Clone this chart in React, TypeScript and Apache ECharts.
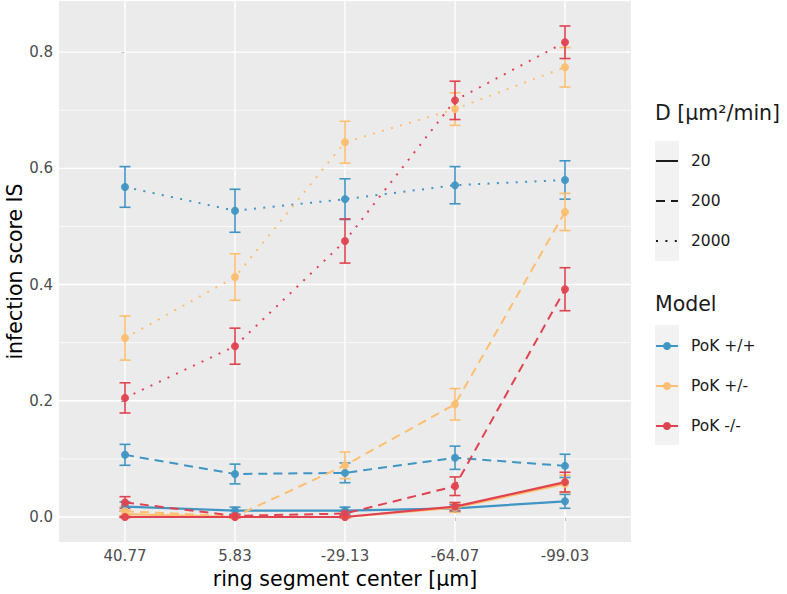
import React, { useEffect, useRef } from "react";
import * as echarts from "echarts";

// ---------- data ----------
const categories = ["40.77", "5.83", "-29.13", "-64.07", "-99.03"];
const models = ["PoK +/+", "PoK +/-", "PoK -/-"];
const diffusions = ["20", "200", "2000"];

// PoK +/+
const wtD20 = [0.018, 0.011, 0.011, 0.015, 0.027];
const wtD20Err = [0.008, 0.006, 0.006, 0.006, 0.012];
const wtD200 = [0.107, 0.074, 0.076, 0.102, 0.088];
const wtD200Err = [0.018, 0.017, 0.017, 0.020, 0.020];
const wtD2000 = [0.568, 0.527, 0.547, 0.571, 0.580];
const wtD2000Err = [0.035, 0.037, 0.035, 0.032, 0.033];

// PoK +/-
const hetD20 = [0.005, 0.0, 0.0, 0.016, 0.057];
const hetD20Err = [0.005, 0.002, 0.002, 0.008, 0.015];
const hetD200 = [0.010, 0.001, 0.089, 0.194, 0.525];
const hetD200Err = [0.008, 0.003, 0.023, 0.027, 0.032];
const hetD2000 = [0.308, 0.413, 0.645, 0.702, 0.774];
const hetD2000Err = [0.038, 0.040, 0.036, 0.028, 0.034];

// PoK -/-
const koD20 = [0.0, 0.0, 0.0, 0.018, 0.060];
const koD20Err = [0.001, 0.001, 0.001, 0.007, 0.017];
const koD200 = [0.025, 0.002, 0.006, 0.053, 0.392];
const koD200Err = [0.010, 0.002, 0.004, 0.016, 0.037];
const koD2000 = [0.205, 0.294, 0.475, 0.717, 0.817];
const koD2000Err = [0.026, 0.031, 0.038, 0.033, 0.028];

const yTicks = [0, 0.2, 0.4, 0.6, 0.8];
const yMinor = [0.1, 0.3, 0.5, 0.7];
const xTicks = [0, 1, 2, 3, 4];

// ---------- style ----------
const COLORS = ["#3F95C4", "#FDBF6F", "#E0434F"];
const FONT = "DejaVu Sans";
const DASHES: any[] = ["solid", [9, 6], [2, 7.4]];

const modelData = [
  [[wtD20, wtD20Err], [wtD200, wtD200Err], [wtD2000, wtD2000Err]],
  [[hetD20, hetD20Err], [hetD200, hetD200Err], [hetD2000, hetD2000Err]],
  [[koD20, koD20Err], [koD200, koD200Err], [koD2000, koD2000Err]],
];

export default function App() {
  const ref = useRef<HTMLDivElement>(null);

  useEffect(() => {
    document.body.style.margin = "0";
    const chart = echarts.init(ref.current!, null, { renderer: "svg" });

    const series: any[] = [];

    // grid lines (ggplot-style) drawn through the axes' scales
    const gridData: any[] = [];
    yTicks.forEach((v) => gridData.push([0, v]));
    yMinor.forEach((v) => gridData.push([1, v]));
    xTicks.forEach((v) => gridData.push([2, v]));
    series.push({
      type: "custom",
      silent: true,
      z: 1,
      data: gridData,
      renderItem: (params: any, api: any) => {
        const kind = api.value(0);
        const v = api.value(1);
        const cs = params.coordSys;
        if (kind === 2) {
          const px = api.coord([v, 0])[0];
          return {
            type: "line",
            shape: { x1: px, y1: cs.y, x2: px, y2: cs.y + cs.height },
            style: { stroke: "#FFFFFF", lineWidth: 1.4 },
          };
        }
        const py = api.coord([0, v])[1];
        return {
          type: "line",
          shape: { x1: cs.x, y1: py, x2: cs.x + cs.width, y2: py },
          style: { stroke: "#FFFFFF", lineWidth: kind === 0 ? 1.4 : 0.7 },
        };
      },
    });

    // error bars
    modelData.forEach((perD, m) => {
      const eb: any[] = [];
      perD.forEach(([vals, errs]) => {
        vals.forEach((v, i) => eb.push([i, v - errs[i], v + errs[i]]));
      });
      series.push({
        type: "custom",
        name: models[m] + " err",
        silent: true,
        z: 2,
        data: eb,
        encode: { x: 0, y: [1, 2] },
        renderItem: (_params: any, api: any) => {
          const x = api.value(0);
          const p1 = api.coord([x, api.value(2)]);
          const p2 = api.coord([x, api.value(1)]);
          const hw = 5.5;
          const style = { stroke: COLORS[m], lineWidth: 1.6, fill: "none" };
          return {
            type: "group",
            children: [
              { type: "line", shape: { x1: p1[0], y1: p1[1], x2: p2[0], y2: p2[1] }, style },
              { type: "line", shape: { x1: p1[0] - hw, y1: p1[1], x2: p1[0] + hw, y2: p1[1] }, style },
              { type: "line", shape: { x1: p2[0] - hw, y1: p2[1], x2: p2[0] + hw, y2: p2[1] }, style },
            ],
          };
        },
      });
    });

    // lines + points
    modelData.forEach((perD, m) => {
      perD.forEach(([vals], d) => {
        series.push({
          type: "line",
          name: models[m] + " D=" + diffusions[d],
          z: 3,
          silent: true,
          data: vals.map((v, i) => [i, v]),
          symbol: "circle",
          symbolSize: 8,
          showSymbol: true,
          itemStyle: { color: COLORS[m], opacity: 0.95 },
          lineStyle: {
            color: COLORS[m],
            width: d === 0 ? 2.2 : 2,
            type: DASHES[d],
          },
          emphasis: { disabled: true },
        });
      });
    });

    const labelStyle = { color: "#4D4D4D", fontSize: 15, fontFamily: FONT };

    const legendText = (text: string, x: number, y: number, size: number) => ({
      type: "text",
      x,
      y,
      silent: true,
      style: {
        text,
        fill: "#1A1A1A",
        fontSize: size,
        fontFamily: FONT,
        align: "left",
        verticalAlign: "middle",
      },
    });

    const graphic: any[] = [];
    // D legend
    graphic.push(legendText("D [µm²/min]", 655, 113, 20.5));
    graphic.push({
      type: "rect",
      silent: true,
      shape: { x: 655, y: 141, width: 24, height: 120 },
      style: { fill: "#F2F2F2" },
    });
    diffusions.forEach((lab, d) => {
      const y = 161 + d * 40;
      graphic.push({
        type: "line",
        silent: true,
        shape: { x1: 656, y1: y, x2: 678, y2: y },
        style: {
          stroke: "#1A1A1A",
          lineWidth: 2,
          lineDash: d === 0 ? null : DASHES[d],
        },
      });
      graphic.push(legendText(lab, 691, y, 15.5));
    });
    // Model legend
    graphic.push(legendText("Model", 655, 304, 20.5));
    graphic.push({
      type: "rect",
      silent: true,
      shape: { x: 655, y: 325, width: 24, height: 120 },
      style: { fill: "#F2F2F2" },
    });
    models.forEach((lab, m) => {
      const y = 346 + m * 40;
      graphic.push({
        type: "line",
        silent: true,
        shape: { x1: 656, y1: y, x2: 678, y2: y },
        style: { stroke: COLORS[m], lineWidth: 2 },
      });
      graphic.push({
        type: "circle",
        silent: true,
        shape: { cx: 667, cy: y, r: 4 },
        style: { fill: COLORS[m] },
      });
      graphic.push(legendText(lab, 691, y, 15.5));
    });

    chart.setOption({
      animation: false,
      backgroundColor: "#FFFFFF",
      grid: {
        left: 59,
        right: 156,
        top: 1,
        bottom: 52,
        show: true,
        backgroundColor: "#EBEBEB",
        borderWidth: 0,
        containLabel: false,
        outerBoundsMode: "none",
      },
      xAxis: {
        type: "value",
        min: -0.6,
        max: 4.6,
        name: "ring segment center [µm]",
        nameLocation: "middle",
        nameGap: 26,
        nameMoveOverlap: false,
        nameTextStyle: { color: "#000000", fontSize: 20.5, fontFamily: FONT },
        axisLine: { show: false },
        axisTick: {
          show: true,
          customValues: xTicks,
          length: 4,
          lineStyle: { color: "#333333", width: 1 },
        },
        axisLabel: {
          customValues: xTicks,
          margin: 6,
          ...labelStyle,
          formatter: (v: number) => categories[Math.round(v)] ?? "",
        },
        splitLine: { show: false },
      },
      yAxis: {
        type: "value",
        min: -0.043,
        max: 0.888,
        name: "infection score IS",
        nameLocation: "middle",
        nameGap: 34,
        nameMoveOverlap: false,
        nameRotate: 90,
        nameTextStyle: { color: "#000000", fontSize: 20.5, fontFamily: FONT },
        axisLine: { show: false },
        axisTick: {
          show: true,
          customValues: yTicks,
          length: 4,
          lineStyle: { color: "#333333", width: 1 },
        },
        axisLabel: {
          customValues: yTicks,
          margin: 6,
          ...labelStyle,
          formatter: (v: number) => v.toFixed(1),
        },
        splitLine: { show: false },
      },
      series,
      graphic,
    });

    return () => chart.dispose();
  }, []);

  return <div ref={ref} style={{ width: 787, height: 594 }} />;
}
